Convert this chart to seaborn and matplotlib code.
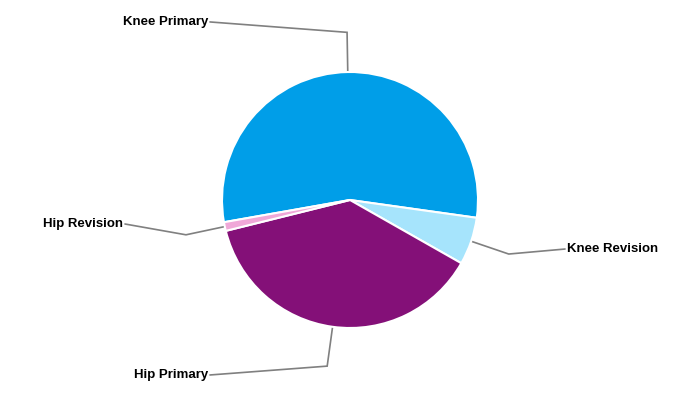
import numpy as np
import matplotlib
matplotlib.use("Agg")
import matplotlib.pyplot as plt
import seaborn as sns

# data (share of procedures)
categories = ["Knee Primary", "Knee Revision", "Hip Primary", "Hip Revision"]
values = [55.0, 6.0, 37.9, 1.1]
colors = ["#009ee8", "#a6e4fc", "#841078", "#f0a8d8"]

# where each label sits (data units, pie radius = 1)
label_pos = {
    "Knee Primary": (-1.094, 1.391, "right"),
    "Knee Revision": (1.68, -0.383, "left"),
    "Hip Primary": (-1.094, -1.367, "right"),
    "Hip Revision": (-1.758, -0.1875, "right"),
}

sns.set_theme(style="white")
plt.rcParams["font.family"] = ["Liberation Sans", "DejaVu Sans"]

fig = plt.figure(figsize=(7, 4), dpi=100)
ax = fig.add_axes([0, 0, 1, 1])

wedges, _ = ax.pie(values, colors=colors, startangle=190, counterclock=False,
                   radius=1.0, center=(0, 0),
                   wedgeprops=dict(edgecolor="white", linewidth=1.5))

for w, name in zip(wedges, categories):
    mid = np.deg2rad((w.theta1 + w.theta2) / 2)
    x0, y0 = np.cos(mid), np.sin(mid)
    x1, y1 = 1.31 * x0, 1.31 * y0
    lx, ly, ha = label_pos[name]
    ax.plot([x0, x1, lx], [y0, y1, ly], color="#808080", lw=1.2,
            solid_joinstyle="miter", zorder=0)
    off = -0.015 if ha == "right" else 0.015
    ax.text(lx + off, ly, name, ha=ha, va="center", fontsize=9.5,
            fontweight="bold", color="black")

ax.set_xlim(-350 / 128, 350 / 128)
ax.set_ylim(-200 / 128, 200 / 128)
ax.set_aspect("equal")
ax.axis("off")

fig.savefig("out.png", dpi=100, facecolor="white")
